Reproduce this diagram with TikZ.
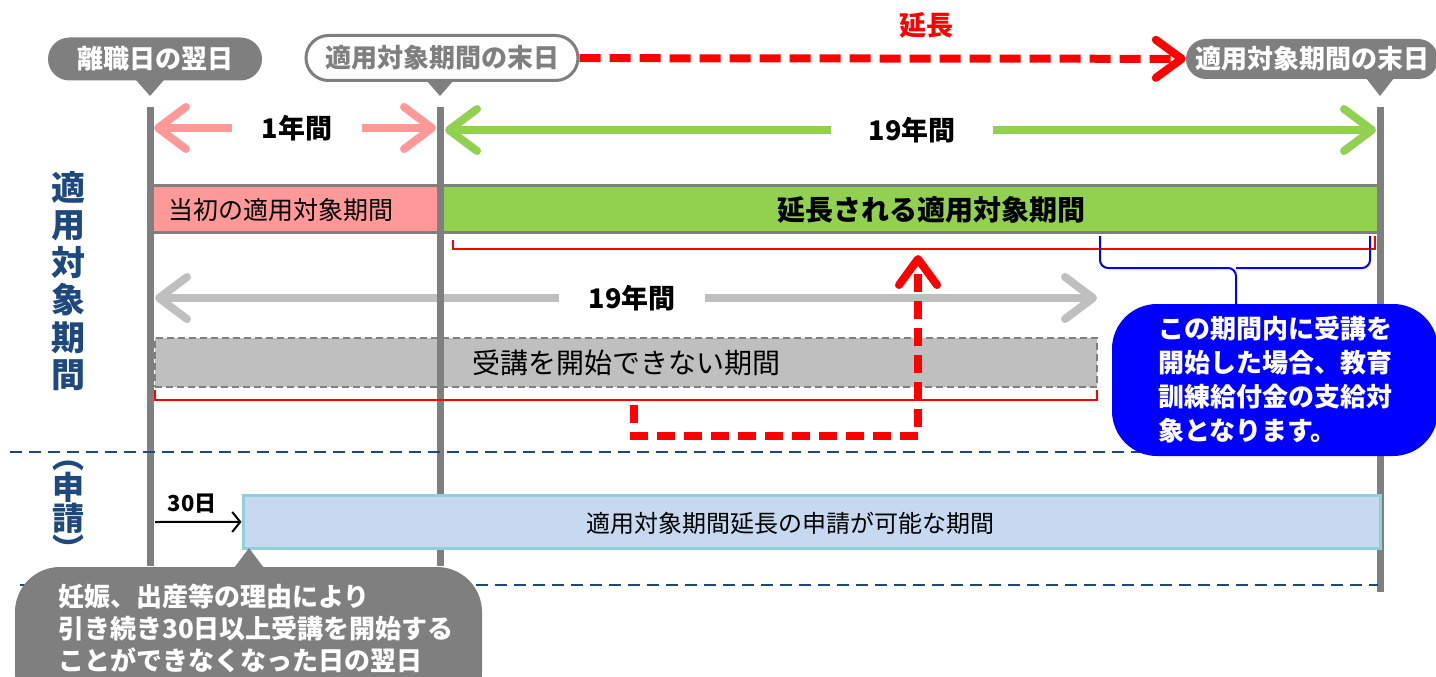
\documentclass[tikz,border=0pt]{standalone}
\usepackage{fontspec}
\newfontfamily\jp{Noto Sans CJK JP}
\usetikzlibrary{arrows.meta,shapes.misc}

\definecolor{midgray}{HTML}{7F7F7F}
\definecolor{softgray}{HTML}{BFBFBF}
\definecolor{pinkish}{HTML}{FF9999}
\definecolor{leafgreen}{HTML}{92D050}
\definecolor{navy}{HTML}{1F497D}
\definecolor{paleblue}{HTML}{C6D9F0}
\definecolor{aqua}{HTML}{92CDDC}

\begin{document}
\begin{tikzpicture}[x=1pt,y=-1pt,
	every node/.style={inner sep=0pt, font=\jp},
	tagfill/.style={rounded rectangle, fill=midgray, text=white, font=\jp\bfseries\fontsize{26}{28}\selectfont},
	tagline/.style={rounded rectangle, draw=midgray, line width=3pt, fill=white, text=midgray, font=\jp\bfseries\fontsize{26}{28}\selectfont},
	barline/.style={draw=midgray, line width=7pt},
	spanlabel/.style={font=\jp\bfseries\fontsize{27}{29}\selectfont},
	spanarrow/.style={draw, line width=8pt, -{Straight Barb[length=28pt,width=42pt,round]}},
	period/.style={draw=midgray, line width=3pt},
	bracket/.style={draw=red, line width=2pt},
	extend/.style={draw=red, line width=8pt, dash pattern=on 21pt off 9pt, -{Straight Barb[length=26pt,width=38pt,round]}},
	divider/.style={draw=navy, line width=2.5pt, dash pattern=on 12pt off 7pt},
	sidehead/.style={text=navy, align=center, font=\jp\bfseries\fontsize{34}{37.5}\selectfont},
	bubble/.style={rounded corners=45pt, text=white, align=left, font=\jp\bfseries\fontsize{26}{34}\selectfont}
]

\useasboundingbox (0,0) rectangle (1436,677);

\coordinate (a0) at (150,107);
\coordinate (a1) at (150,566);
\coordinate (b0) at (440,107);
\coordinate (b1) at (440,566);
\coordinate (c0) at (1380,107);
\coordinate (c1) at (1380,592);

\coordinate (p1) at (154,128);
\coordinate (p2) at (436,128);
\coordinate (g1) at (445,130);
\coordinate (g2) at (1376,130);
\coordinate (s1) at (155,298);
\coordinate (s2) at (1097,298);

\coordinate (d0) at (10,452);
\coordinate (d1) at (1378,452);
\coordinate (e0) at (20,585);
\coordinate (e1) at (1378,585);

\coordinate (r1) at (634,405);
\coordinate (r2) at (634,436);
\coordinate (r3) at (918,436);
\coordinate (r4) at (918,255);

\coordinate (u1) at (1100,236);
\coordinate (u2) at (1370,236);
\coordinate (u3) at (1236,305);
\coordinate (t0) at (155,522);

\node[sidehead] (head1) at (68,281) {適\\用\\対\\象\\期\\間};
\node[sidehead, font=\jp\bfseries\fontsize{32}{31}\selectfont] (head2) at (68,511) {︵\\申\\請\\︶};

\node[tagfill, minimum width=214pt, minimum height=43pt] (leave) at (155,59) {離職日の翌日};
\node[tagline, minimum width=272pt, minimum height=45pt] (endold) at (442,58) {適用対象期間の末日};
\node[tagfill, minimum width=252pt, minimum height=40pt] (endnew) at (1312,59) {適用対象期間の末日};
\fill[midgray] (136,80) -- (164,80) -- (150,96) -- cycle;
\fill[midgray] (426,80) -- (454,80) -- (440,96) -- cycle;
\fill[midgray] (1366,78) -- (1394,78) -- (1380,96) -- cycle;

\node[text=red, font=\jp\bfseries\fontsize{27}{29}\selectfont] (ext) at (926,25) {延長};
\path (endold) edge [extend] (endnew);

\node[spanlabel, minimum width=130pt] (yr1) at (297,128) {1年間};
\node[spanlabel, minimum width=161pt] (yr19) at (912,130) {19年間};
\path (yr1) edge [spanarrow, pinkish] (p1);
\path (yr1) edge [spanarrow, pinkish] (p2);
\path (yr19) edge [spanarrow, leafgreen] (g1);
\path (yr19) edge [spanarrow, leafgreen] (g2);

\node[period, fill=pinkish, minimum width=290pt, minimum height=47pt] (first) at (295,208.5) {};
\node[period, fill=leafgreen, minimum width=940pt, minimum height=47pt] (longer) at (910,208.5) {};
\node[anchor=west, font=\jp\fontsize{25}{27}\selectfont] (firstlbl) at (168,210) {当初の適用対象期間};
\node[font=\jp\bfseries\fontsize{28}{30}\selectfont] (longerlbl) at (931,210) {延長される適用対象期間};

\node[draw=midgray, line width=2.5pt, dash pattern=on 7pt off 4pt, fill=softgray, minimum width=942pt, minimum height=49pt, font=\jp\fontsize{28}{30}\selectfont] (nostart) at (626,362.5) {受講を開始できない期間};

\node[spanlabel, minimum width=145pt] (gyr) at (632,298) {19年間};
\path (gyr) edge [spanarrow, softgray] (s1);
\path (gyr) edge [spanarrow, softgray] (s2);

\draw[barline] (a0) -- (a1);
\draw[barline] (b0) -- (b1);
\draw[barline] (c0) -- (c1);

\draw[bracket] (453,240) -- (453,249) -- (1375,249) -- (1375,236);
\draw[bracket] (155,390) -- (155,400) -- (1097,400) -- (1097,390);

\draw[extend, dash pattern=on 18pt off 9pt] (r1) -- (r2) -- (r3) -- (r4);

\draw[divider] (d0) -- (d1);
\draw[divider] (e0) -- (e1);

\draw[blue, line width=2pt, rounded corners=8pt] (u1) -- (1100,268) -- (1236,268) -- (u3);
\draw[blue, line width=2pt, rounded corners=8pt] (u2) -- (1370,268) -- (1236,268);
\node[bubble, fill=blue, minimum width=326pt, minimum height=152pt] (callout) at (1275,380) {この期間内に受講を\\開始した場合、教育\\訓練給付金の支給対\\象となります。};

\node[font=\jp\bfseries\fontsize{22}{24}\selectfont] (thirty) at (192,504) {30日};
\node[draw=aqua, line width=3pt, fill=paleblue, minimum width=1137pt, minimum height=53pt] (apply) at (811.5,521.5) {};
\node[font=\jp\fontsize{24}{26}\selectfont] (applylbl) at (790,523) {適用対象期間延長の申請が可能な期間};
\path (t0) edge [draw, line width=2pt, -{Straight Barb[length=8pt,width=20pt]}] (apply);

\node[bubble, fill=midgray, minimum width=467pt, minimum height=150pt] (reason) at (248.5,642) {};
\fill[midgray] (234,568) -- (264,568) -- (249,548) -- cycle;
\node[anchor=west, text=white, align=left, font=\jp\bfseries\fontsize{26}{32}\selectfont] (reasonlbl) at (58,628) {妊娠、出産等の理由により\\引き続き30日以上受講を開始する\\ことができなくなった日の翌日};

\end{tikzpicture}
\end{document}
